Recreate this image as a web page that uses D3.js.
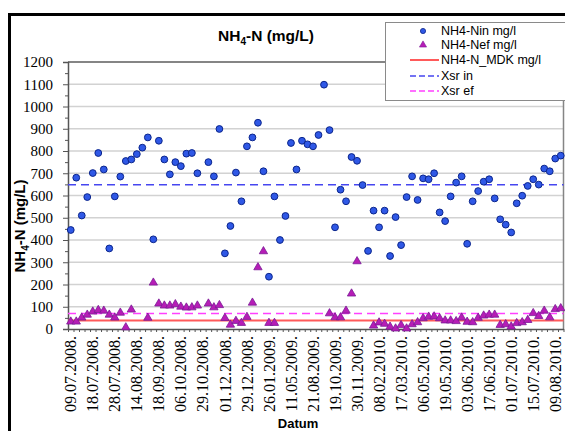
<!DOCTYPE html>
<html>
<head>
<meta charset="utf-8">
<script src="https://cdnjs.cloudflare.com/ajax/libs/d3/7.8.5/d3.min.js"></script>
<style>
  body { margin: 0; background: #fff; }
  svg { display: block; }
</style>
</head>
<body>
<svg width="565" height="431"></svg>
<script>
// NH4-N influent (circles), one value per sample, null = no sample
let nin = [445, 680, 510, 593, 701, 791, 717, 362, 596, 685,
  755, 762, 786, 815, 861, 403, 846, 762, 695, 750,
  732, 788, 791, 700, null, 750, 686, 899, 340, 463,
  703, 574, 821, 861, 927, 709, 235, 596, 400, 508,
  836, 717, 846, 830, 821, 872, 1098, 894, 457, 626,
  574, 773, 756, 647, 351, 532, 457, 532, 328, 503,
  377, 593, 686, 580, 677, 673, 700, 524, 485, 596,
  658, 686, 383, 574, 620, 662, 673, 587, 493, 469,
  434, 565, 599, 643, 673, 649, 721, 709, 766, 779]

// NH4-N effluent (triangles)
let nef = [33, 33, 51, 64, 78, 85, 82, 64, 51, 73,
  7, 87, null, null, 50, 208, 114, 105, 105, 111,
  100, 96, 97, 105, null, 114, 97, 107, 49, 19,
  36, 27, 54, 118, 277, 349, 27, 27, null, null,
  null, null, null, null, null, null, null, 70, 52, 52,
  82, 159, 304, null, null, 15, 29, 23, 10, 2,
  17, 2, 21, 30, 48, 55, 56, 48, 38, 38,
  35, 51, 32, 30, 50, 60, 64, 64, 18, 21,
  11, 26, 30, 40, 71, 58, 82, 52, 89, 93]

// date labels shown on every 4th sample
let tickLabels = ['09.07.2008.', '18.07.2008.', '28.07.2008.', '14.08.2008.', '18.09.2008.',
  '06.10.2008.', '29.10.2008.', '01.12.2008.', '29.12.2008.', '26.01.2009.',
  '11.05.2009.', '21.08.2009.', '19.10.2009.', '30.11.2009.', '08.02.2010.',
  '17.03.2010.', '06.05.2010.', '19.05.2010.', '03.06.2010.', '17.06.2010.',
  '01.07.2010.', '15.07.2010.', '09.08.2010.']
let labelStep = 4

let mdk = 38     // NH4-N_MDK mg/l
let xsrIn = 648  // mean influent
let xsrEf = 70   // mean effluent

let serif = '"Liberation Serif", "Times New Roman", serif'
let sans = '"Liberation Sans", Arial, sans-serif'

let svg = d3.select('svg')

let plotLeft = 68, plotRight = 563.5, plotTop = 62, plotBottom = 329
let categories = d3.range(nin.length)

let x = d3.scaleBand().domain(categories).range([plotLeft, plotRight])
let xEdge = d3.scaleLinear().domain([0, categories.length]).range([plotLeft, plotRight])
let y = d3.scaleLinear().domain([0, 1200]).range([plotBottom, plotTop])
let cx = i => x(i) + x.bandwidth() / 2

// outer chart frame
svg.append('rect')
  .attr('x', 9.5).attr('y', 14.5)
  .attr('width', 620).attr('height', 500)
  .attr('fill', 'none')
  .attr('stroke', '#000')
  .attr('stroke-width', 3)

// title
let title = svg.append('text')
  .attr('x', 266).attr('y', 41)
  .attr('text-anchor', 'middle')
  .style('font-family', sans)
  .style('font-size', '15.5px')
  .style('font-weight', 'bold')
title.append('tspan').text('NH')
title.append('tspan').text('4').attr('dy', 4).style('font-size', '10px')
title.append('tspan').text('-N (mg/L)').attr('dy', -4)

// gridlines
svg.append('g')
  .selectAll('line')
  .data(d3.range(100, 1200, 100))
  .enter()
  .append('line')
  .attr('x1', plotLeft).attr('x2', plotRight)
  .attr('y1', d => y(d)).attr('y2', d => y(d))
  .attr('stroke', '#d2d2d2')
  .attr('stroke-width', 1.5)

// plot border top / right
svg.append('line')
  .attr('x1', plotLeft).attr('x2', plotRight)
  .attr('y1', y(1200)).attr('y2', y(1200))
  .attr('stroke', '#858585').attr('stroke-width', 2)
svg.append('line')
  .attr('x1', plotRight).attr('x2', plotRight)
  .attr('y1', plotTop).attr('y2', plotBottom)
  .attr('stroke', '#858585').attr('stroke-width', 1.5)

// Y axis, major and minor ticks
let yAxis = svg.append('g')
  .attr('transform', `translate(${plotLeft},0)`)
  .call(d3.axisLeft(y)
    .tickValues(d3.range(0, 1201, 100))
    .tickFormat(d3.format('d'))
    .tickSize(5)
    .tickPadding(10))
yAxis.attr('font-family', null)
yAxis.selectAll('text')
  .style('font-family', serif)
  .style('font-size', '15px')
  .attr('fill', '#000')
svg.append('g')
  .attr('transform', `translate(${plotLeft},0)`)
  .call(d3.axisLeft(y).tickValues(d3.range(50, 1200, 100)).tickSize(3).tickFormat(''))
  .select('.domain').remove()
svg.selectAll('.tick line').attr('stroke', '#555')
yAxis.select('.domain').attr('stroke', '#555').attr('stroke-width', 1.5)

// X axis: ticks at category edges, labels every 4th sample
let xTicks = svg.append('g')
  .attr('transform', `translate(0,${plotBottom})`)
  .call(d3.axisBottom(xEdge).tickValues(d3.range(0, categories.length + 1)).tickSize(3).tickSizeOuter(0).tickFormat(''))
xTicks.selectAll('line').attr('stroke', '#555')
xTicks.select('.domain').attr('stroke', '#555').attr('stroke-width', 1.5)

let xAxis = svg.append('g')
  .attr('transform', `translate(0,${plotBottom})`)
  .call(d3.axisBottom(x)
    .tickValues(categories.filter(i => i % labelStep === 0))
    .tickFormat(i => tickLabels[i / labelStep])
    .tickSize(0))
xAxis.attr('font-family', null)
xAxis.select('.domain').remove()
xAxis.selectAll('text')
  .style('font-family', serif)
  .style('font-size', '16px')
  .attr('fill', '#000')
  .attr('transform', 'rotate(-90)')
  .attr('x', -7)
  .attr('y', 0)
  .attr('dy', '0.35em')
  .style('text-anchor', 'end')

// axis titles
svg.append('text')
  .attr('x', 298).attr('y', 428)
  .attr('text-anchor', 'middle')
  .style('font-family', sans)
  .style('font-size', '13px')
  .style('font-weight', 'bold')
  .text('Datum')

let yTitle = svg.append('text')
  .attr('transform', 'translate(25,226) rotate(-90)')
  .attr('text-anchor', 'middle')
  .style('font-family', sans)
  .style('font-size', '15px')
  .style('font-weight', 'bold')
yTitle.append('tspan').text('NH')
yTitle.append('tspan').text('4').attr('dy', 4).style('font-size', '10px')
yTitle.append('tspan').text('-N (mg/L)').attr('dy', -4)

// reference lines
let refLines = [
  { value: mdk, color: '#ff5a5a', dash: null, width: 2 },
  { value: xsrIn, color: '#4646f0', dash: '8,5', width: 1.5 },
  { value: xsrEf, color: '#ff40ff', dash: '8,5', width: 1.5 }
]
svg.append('g')
  .selectAll('line')
  .data(refLines)
  .enter()
  .append('line')
  .attr('x1', plotLeft).attr('x2', plotRight)
  .attr('y1', d => y(d.value)).attr('y2', d => y(d.value))
  .attr('stroke', d => d.color)
  .attr('stroke-width', d => d.width)
  .attr('stroke-dasharray', d => d.dash)

let triangle = d3.symbol().type(d3.symbolTriangle).size(30)

// effluent triangles
svg.append('g')
  .selectAll('path')
  .data(categories.filter(i => nef[i] != null))
  .enter()
  .append('path')
  .attr('d', triangle)
  .attr('transform', i => `translate(${cx(i)},${y(nef[i])})`)
  .attr('fill', '#b61db6')
  .attr('stroke', '#7a1a96')
  .attr('stroke-width', 0.8)

// influent circles
svg.append('g')
  .selectAll('circle')
  .data(categories.filter(i => nin[i] != null))
  .enter()
  .append('circle')
  .attr('cx', cx)
  .attr('cy', i => y(nin[i]))
  .attr('r', 3.4)
  .attr('fill', '#2f58e6')
  .attr('stroke', '#0c268c')
  .attr('stroke-width', 1)

// Legend
let legend = svg.append('g')
legend.append('rect')
  .attr('x', 385.5).attr('y', 22.5)
  .attr('width', 180).attr('height', 78)
  .attr('fill', '#fff')
  .attr('stroke', '#8a8a8a')

let legendData = [
  { text: 'NH4-Nin mg/l', type: 'circle' },
  { text: 'NH4-Nef mg/l', type: 'triangle' },
  { text: 'NH4-N_MDK mg/l', type: 'line', ref: refLines[0] },
  { text: 'Xsr in', type: 'line', ref: refLines[1] },
  { text: 'Xsr ef', type: 'line', ref: refLines[2] }
]
let rowY = [31, 45, 60, 76, 91]

legend.selectAll('text')
  .data(legendData)
  .enter()
  .append('text')
  .attr('x', 441)
  .attr('y', (d, i) => rowY[i])
  .attr('dy', '0.35em')
  .style('font-family', sans)
  .style('font-size', '12.5px')
  .text(d => d.text)

legendData.forEach((d, i) => {
  if (d.type === 'circle') {
    legend.append('circle')
      .attr('cx', 423).attr('cy', rowY[i]).attr('r', 2.6)
      .attr('fill', '#2f58e6').attr('stroke', '#0c268c').attr('stroke-width', 0.8)
  } else if (d.type === 'triangle') {
    legend.append('path')
      .attr('d', d3.symbol().type(d3.symbolTriangle).size(22))
      .attr('transform', `translate(423,${rowY[i]})`)
      .attr('fill', '#b61db6').attr('stroke', '#7a1a96').attr('stroke-width', 0.6)
  } else {
    legend.append('line')
      .attr('x1', 410).attr('x2', 439)
      .attr('y1', rowY[i]).attr('y2', rowY[i])
      .attr('stroke', d.ref.color)
      .attr('stroke-width', d.ref.width)
      .attr('stroke-dasharray', d.ref.dash ? '6,3' : null)
  }
})
</script>
</body>
</html>
